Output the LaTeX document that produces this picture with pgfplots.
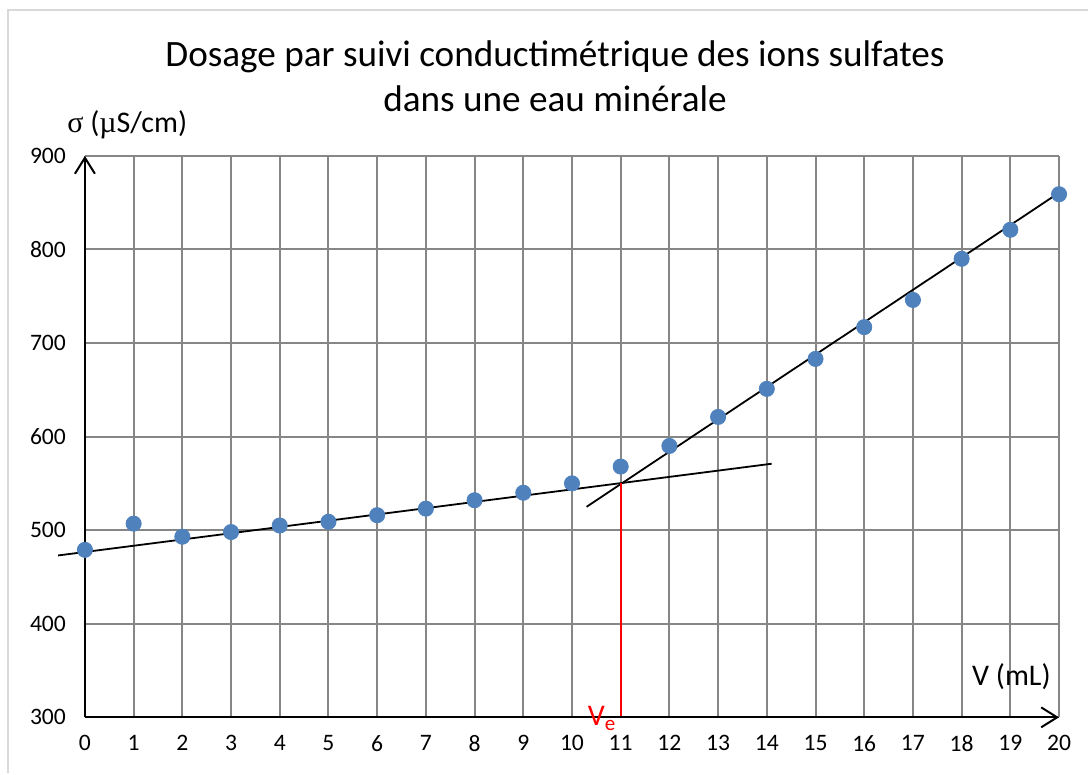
\documentclass[border=0pt]{standalone}
\usepackage{pgfplots}
\pgfplotsset{compat=1.18}
\usepackage{fontspec}
\setmainfont{Carlito}
\newfontfamily\symf{Liberation Serif}
\usetikzlibrary{arrows.meta}
\definecolor{ptblue}{RGB}{79,129,189}
\definecolor{gridgray}{RGB}{134,134,134}
\definecolor{framegray}{RGB}{217,217,217}
\begin{document}
\begin{tikzpicture}
\begin{axis}[
  scale only axis,
  width=487.5pt, height=281pt,
  xmin=0, xmax=20, ymin=300, ymax=900,
  xtick={0,1,...,20}, ytick={300,400,...,900},
  grid=major,
  major grid style={gridgray, line width=1pt},
  axis line style={draw=none},
  major tick length=0pt,
  clip=false,
  /pgf/number format/assume math mode=true,
  xticklabel={\fontsize{11.8}{14}\selectfont\pgfmathprintnumber{\tick}},
  yticklabel={\fontsize{11.8}{14}\selectfont\pgfmathprintnumber{\tick}},
  xticklabel style={yshift=-5.5pt},
  yticklabel style={xshift=-6pt},
]
% data points
\addplot[only marks, mark=*, mark size=3.8pt, mark options={fill=ptblue, draw=ptblue}] coordinates {
(0,479) (1,507) (2,493) (3,498) (4,505) (5,509) (6,516) (7,523) (8,532) (9,540)
(10,550) (11,568) (12,590) (13,621) (14,651) (15,683) (16,717) (17,746) (18,790) (19,821) (20,859)
};
% fitted lines
\addplot[black, line width=0.9pt] coordinates {(-0.55,473) (14.1,571)};
\addplot[black, line width=0.9pt] coordinates {(10.3,525) (20.04,862)};
% equivalence
\addplot[red, line width=1pt] coordinates {(11,300) (11,550)};
% axes arrows
\draw[black, line width=1pt, -{Straight Barb[length=8pt,width=10pt]}] (axis cs:0,300) -- (axis cs:20,300);
\draw[black, line width=1pt, -{Straight Barb[length=8pt,width=10pt]}] (axis cs:0,300) -- (axis cs:0,900);
% labels
\node[anchor=west, inner sep=0pt, font=\fontsize{15}{17}\selectfont] at ([xshift=-9pt, yshift=15.5pt]axis cs:0,900) {{\symf σ} ({\symf µ}S/cm)};
\node[anchor=east, inner sep=0pt, font=\fontsize{15}{17}\selectfont] at ([xshift=-4pt, yshift=20.5pt]axis cs:20,300) {V (mL)};
\node[anchor=east, red, font=\fontsize{15}{17}\selectfont, inner sep=0pt] at ([xshift=-2pt, yshift=-0.5pt]axis cs:11,300) {V\textsubscript{e}};
\node[anchor=base, font=\fontsize{18.6}{22}\selectfont, inner sep=0pt] at ([xshift=-8.5pt, yshift=44.5pt]axis cs:10,900) {Dosage par suivi conductimétrique des ions sulfates};
\node[anchor=base, font=\fontsize{18.6}{22}\selectfont, inner sep=0pt] at ([xshift=-8.5pt, yshift=22pt]axis cs:10,900) {dans une eau minérale};
\end{axis}
% frame
\draw[framegray, line width=1pt] ([xshift=-38.5pt, yshift=-28pt]current axis.south west) -- ++(0,382pt) -- ++(540.5pt,0);
\path[use as bounding box] ([xshift=-42.5pt, yshift=-28pt]current axis.south west) rectangle ++(544.5pt,387pt);
\end{tikzpicture}
\end{document}
